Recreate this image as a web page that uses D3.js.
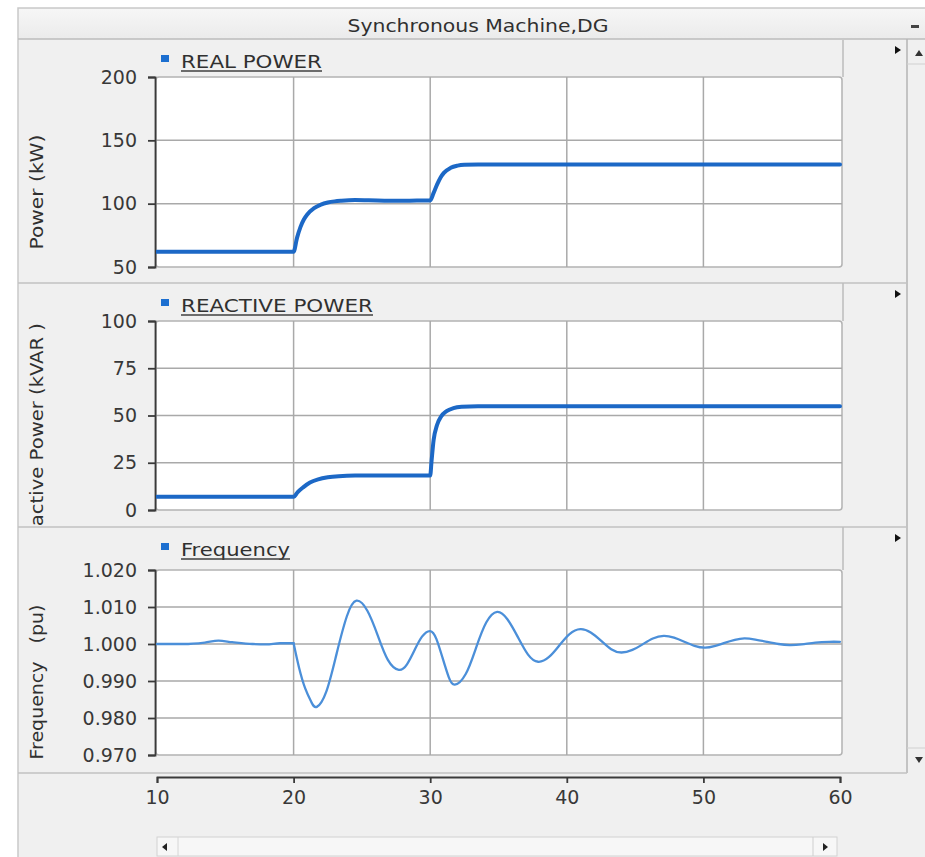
<!DOCTYPE html>
<html>
<head>
<meta charset="utf-8">
<script src="https://cdn.jsdelivr.net/npm/d3@7"></script>
<style>
  html, body { margin: 0; padding: 0; background: #ffffff; }
  svg text { font-family: "DejaVu Sans", "Liberation Sans", sans-serif; }
</style>
</head>
<body>
<svg id="chart" width="925" height="857"></svg>
<script>
// ---- data -------------------------------------------------------------
const timeTicks = [10, 20, 30, 40, 50, 60];

const realTicks = [50, 100, 150, 200];
const realTime  = [10, 20, 20.25, 20.5, 20.75, 21, 21.5, 22, 22.5, 23, 23.5, 24.5, 25.5, 27, 28.5, 30,
                   30.25, 30.5, 30.75, 31, 31.5, 32, 32.5, 33.5, 40, 50, 60];
const realPower = [62, 62, 73, 81.5, 87.5, 91.5, 96.5, 99.3, 100.9, 101.8, 102.3, 102.8, 102.7, 102.3, 102.4, 102.5,
                   108.5, 115, 120.5, 124.3, 128.3, 130, 130.7, 131, 131, 131, 131];

const reactiveTicks = [0, 25, 50, 75, 100];
const reactiveTime  = [10, 20, 20.3, 20.7, 21.2, 21.8, 22.5, 23.3, 24.5, 30,
                       30.1, 30.25, 30.5, 30.8, 31.2, 31.7, 32.3, 33.5, 40, 50, 60];
const reactivePower = [7, 7, 9.5, 12, 14.5, 16.2, 17.3, 17.9, 18.2, 18.2,
                       26, 37, 45, 49.5, 52.3, 53.9, 54.6, 54.9, 54.9, 54.9, 54.9];

const freqTicks = [0.970, 0.980, 0.990, 1.000, 1.010, 1.020];
// pre-disturbance segment (drawn straight) and the swing after t = 20 s (drawn as a smooth spline)
const freqFlatTime  = [10, 12, 13.5, 14.5, 15.5, 17, 18, 19, 20];
const freqFlatValue = [1.0000, 1.0000, 1.0004, 1.0009, 1.0005, 1.0000, 0.9999, 1.0002, 1.0002];
const freqSwingTime  = [20, 20.4, 20.85, 21.3, 21.7,
                        22.4, 23.15, 23.9, 24.6,
                        25.4, 26.15, 26.9, 27.7,
                        28.3, 28.85, 29.4, 30.0,
                        30.45, 30.9, 31.35, 31.8,
                        32.6, 33.35, 34.1, 34.9,
                        35.65, 36.4, 37.15, 37.9,
                        38.7, 39.45, 40.2, 41.0,
                        41.75, 42.5, 43.25, 44.0,
                        44.8, 45.55, 46.3, 47.1,
                        47.85, 48.6, 49.35, 50.1,
                        50.8, 51.55, 52.3, 53.0,
                        53.8, 54.65, 55.5, 56.3,
                        57.2, 58.2, 59.2, 60];
const freqSwingValue = [1.0002, 0.9936, 0.9880, 0.9843, 0.9830,
                        0.9872, 0.9974, 1.0075, 1.0117,
                        1.0090, 1.0024, 0.9957, 0.9930,
                        0.9945, 0.9983, 1.0020, 1.0035,
                        1.0014, 0.9963, 0.9911, 0.9890,
                        0.9919, 0.9989, 1.0058, 1.0087,
                        1.0067, 1.0020, 0.9972, 0.9952,
                        0.9965, 0.9996, 1.0027, 1.0040,
                        1.0031, 1.0009, 0.9986, 0.9977,
                        0.9984, 0.9999, 1.0015, 1.0022,
                        1.0017, 1.0006, 0.9995, 0.9990,
                        0.9994, 1.0003, 1.0011, 1.0015,
                        1.0012, 1.0006, 1.0000, 0.9997,
                        0.9999, 1.0004, 1.0006, 1.0006];

// ---- layout -----------------------------------------------------------
const svg = d3.select("#chart");
const winLeft = 18, winTop = 8, winRight = 925, titleBottom = 39;
const scrollLeft = 907;
const plotLeft = 156, plotRight = 842;

const x = d3.scaleLinear().domain([10, 60]).range([157, 840]);

const zip = (t, v) => t.map((tt, k) => [tt, v[k]]);

const panels = [
  { top: 40, bottom: 283, plotTop: 77, plotBottom: 267, domain: [50, 200], ticks: realTicks,
    fmt: d3.format("d"), yTitle: "Power (kW)", yTitleY: 192, yTitleLen: 115,
    legend: "REAL POWER", legendY: 61, legendLen: 141,
    series: [{ pts: zip(realTime, realPower), curve: d3.curveMonotoneX }],
    color: "#1c68c6", width: 4 },
  { top: 283, bottom: 527, plotTop: 321, plotBottom: 510, domain: [0, 100], ticks: reactiveTicks,
    fmt: d3.format("d"), yTitle: "Reactive Power (kVAR )", yTitleY: 437, yTitleLen: 228,
    legend: "REACTIVE POWER", legendY: 305, legendLen: 192,
    series: [{ pts: zip(reactiveTime, reactivePower), curve: d3.curveMonotoneX }],
    color: "#1c68c6", width: 4 },
  { top: 527, bottom: 773, plotTop: 570, plotBottom: 755, domain: [0.970, 1.020], ticks: freqTicks,
    fmt: d3.format(".3f"), yTitle: "Frequency   (pu)", yTitleY: 682, yTitleLen: 155,
    legend: "Frequency", legendY: 549, legendLen: 109,
    series: [{ pts: zip(freqFlatTime, freqFlatValue), curve: d3.curveMonotoneX },
             { pts: zip(freqSwingTime, freqSwingValue), curve: d3.curveNatural }],
    color: "#4b8fd9", width: 2.3 }
];

// ---- window frame -----------------------------------------------------
svg.append("rect").attr("x", 0).attr("y", 0).attr("width", 925).attr("height", 857).attr("fill", "#ffffff");
svg.append("rect").attr("x", winLeft).attr("y", winTop)
  .attr("width", winRight - winLeft + 2).attr("height", 857 - winTop + 2)
  .attr("fill", "#f0f0f0").attr("stroke", "#c9c9c9").attr("stroke-width", 1.5);

const defs = svg.append("defs");
const grad = defs.append("linearGradient").attr("id", "titleGrad")
  .attr("x1", 0).attr("y1", 0).attr("x2", 0).attr("y2", 1);
grad.append("stop").attr("offset", "0%").attr("stop-color", "#f6f6f6");
grad.append("stop").attr("offset", "100%").attr("stop-color", "#ebebeb");

svg.append("rect").attr("x", winLeft + 1).attr("y", winTop + 1)
  .attr("width", winRight - winLeft).attr("height", titleBottom - winTop - 1)
  .attr("fill", "url(#titleGrad)");
svg.append("line").attr("x1", winLeft).attr("x2", winRight).attr("y1", titleBottom).attr("y2", titleBottom)
  .attr("stroke", "#bdbdbd").attr("stroke-width", 1.5);

svg.append("text").attr("x", 478).attr("y", 32).attr("text-anchor", "middle")
  .attr("font-size", 18).attr("fill", "#303030")
  .attr("textLength", 261).attr("lengthAdjust", "spacingAndGlyphs")
  .text("Synchronous Machine,DG");

// minimise mark in the title bar
svg.append("rect").attr("x", 911).attr("y", 25).attr("width", 8).attr("height", 3).attr("fill", "#444");

// ---- vertical scrollbar -----------------------------------------------
svg.append("line").attr("x1", scrollLeft).attr("x2", scrollLeft).attr("y1", titleBottom).attr("y2", 773)
  .attr("stroke", "#b5b5b5").attr("stroke-width", 1.5);
svg.append("line").attr("x1", scrollLeft).attr("x2", winRight).attr("y1", 64).attr("y2", 64)
  .attr("stroke", "#d0d0d0");
svg.append("line").attr("x1", scrollLeft).attr("x2", winRight).attr("y1", 748).attr("y2", 748)
  .attr("stroke", "#d0d0d0");
svg.append("path").attr("d", "M915,56 L919,50 L923,56 Z").attr("fill", "#333");
svg.append("path").attr("d", "M915,757 L923,757 L919,763 Z").attr("fill", "#333");

// ---- panels -----------------------------------------------------------
panels.forEach((p, i) => {
  const y = d3.scaleLinear().domain(p.domain).range([p.plotBottom, p.plotTop]);
  const g = svg.append("g");

  // panel separator
  g.append("line").attr("x1", winLeft).attr("x2", scrollLeft)
    .attr("y1", p.bottom).attr("y2", p.bottom)
    .attr("stroke", "#c2c2c2").attr("stroke-width", 1.5);

  // header strip edge
  g.append("line").attr("x1", 843).attr("x2", 843).attr("y1", p.top).attr("y2", p.plotTop)
    .attr("stroke", "#bdbdbd").attr("stroke-width", 1.5);
  // header expand arrow
  g.append("path").attr("d", `M895,${p.legendY - 15} L901,${p.legendY - 11} L895,${p.legendY - 7} Z`)
    .attr("fill", "#111");

  // plot box
  g.append("rect").attr("x", plotLeft).attr("y", p.plotTop)
    .attr("width", plotRight - plotLeft).attr("height", p.plotBottom - p.plotTop)
    .attr("rx", 3).attr("fill", "#ffffff").attr("stroke", "#b2b2b2").attr("stroke-width", 1.5);

  // grid
  g.append("g").selectAll("line").data(p.ticks.slice(1, -1)).join("line")
    .attr("x1", plotLeft).attr("x2", plotRight)
    .attr("y1", d => y(d)).attr("y2", d => y(d))
    .attr("stroke", "#a9a9a9").attr("stroke-width", 1.5);
  g.append("g").selectAll("line").data(timeTicks.slice(1, -1)).join("line")
    .attr("x1", d => x(d)).attr("x2", d => x(d))
    .attr("y1", p.plotTop).attr("y2", p.plotBottom)
    .attr("stroke", "#a9a9a9").attr("stroke-width", 1.5);

  // y axis
  const ax = g.append("g").attr("transform", "translate(155,0)")
    .call(d3.axisLeft(y).tickValues(p.ticks).tickFormat(p.fmt)
      .tickSize(7).tickSizeOuter(7).tickPadding(11));
  ax.selectAll("path, line").attr("stroke", "#3a3a3a").attr("stroke-width", 1.8);
  ax.selectAll("text").attr("font-size", 19).attr("fill", "#383838")
    .attr("font-family", "DejaVu Sans, sans-serif");

  // y axis title (clipped to its panel)
  const clipId = "panelClip" + i;
  defs.append("clipPath").attr("id", clipId).append("rect")
    .attr("x", winLeft).attr("y", p.top).attr("width", 140).attr("height", p.bottom - p.top);
  g.append("g").attr("clip-path", `url(#${clipId})`)
    .append("text")
    .attr("transform", `translate(43,${p.yTitleY}) rotate(-90)`)
    .attr("text-anchor", "middle").attr("font-size", 18).attr("fill", "#303030")
    .attr("textLength", p.yTitleLen).attr("lengthAdjust", "spacingAndGlyphs")
    .style("white-space", "pre")
    .text(p.yTitle);

  // legend entry
  g.append("rect").attr("x", 161).attr("y", p.legendY - 6).attr("width", 8).attr("height", 7)
    .attr("fill", "#1c6fd0");
  g.append("text").attr("x", 181).attr("y", p.legendY + 7)
    .attr("font-size", 18).attr("fill", "#303030")
    .attr("textLength", p.legendLen).attr("lengthAdjust", "spacingAndGlyphs")
    .text(p.legend);
  g.append("line").attr("x1", 181).attr("x2", 181 + p.legendLen)
    .attr("y1", p.legendY + 10).attr("y2", p.legendY + 10)
    .attr("stroke", "#404040").attr("stroke-width", 1.3);

  // series
  const plotClip = "plotClip" + i;
  defs.append("clipPath").attr("id", plotClip).append("rect")
    .attr("x", plotLeft).attr("y", p.plotTop - 2)
    .attr("width", plotRight - plotLeft).attr("height", p.plotBottom - p.plotTop + 4);
  const sg = g.append("g").attr("clip-path", `url(#${plotClip})`);
  p.series.forEach(s => {
    const line = d3.line().x(d => x(d[0])).y(d => y(d[1])).curve(s.curve);
    sg.append("path").datum(s.pts)
      .attr("d", line).attr("fill", "none")
      .attr("stroke", p.color).attr("stroke-width", p.width)
      .attr("stroke-linejoin", "round").attr("stroke-linecap", "round");
  });
});

// ---- shared time axis -------------------------------------------------
const xAx = svg.append("g").attr("transform", "translate(0,777)")
  .call(d3.axisBottom(x).tickValues(timeTicks).tickFormat(d3.format("d"))
    .tickSize(6).tickSizeOuter(6).tickPadding(8));
xAx.selectAll("path, line").attr("stroke", "#3a3a3a").attr("stroke-width", 1.8);
xAx.selectAll("text").attr("font-size", 19).attr("fill", "#383838")
  .attr("font-family", "DejaVu Sans, sans-serif");

// ---- horizontal scrollbar ---------------------------------------------
svg.append("rect").attr("x", 157).attr("y", 837).attr("width", 680).attr("height", 19)
  .attr("fill", "#f7f7f7").attr("stroke", "#d2d2d2");
svg.append("line").attr("x1", 178).attr("x2", 178).attr("y1", 837).attr("y2", 856).attr("stroke", "#d6d6d6");
svg.append("line").attr("x1", 813).attr("x2", 813).attr("y1", 837).attr("y2", 856).attr("stroke", "#cfcfcf");
svg.append("path").attr("d", "M167,843 L162,847 L167,851 Z").attr("fill", "#222");
svg.append("path").attr("d", "M823,843 L828,847 L823,851 Z").attr("fill", "#222");
</script>
</body>
</html>
